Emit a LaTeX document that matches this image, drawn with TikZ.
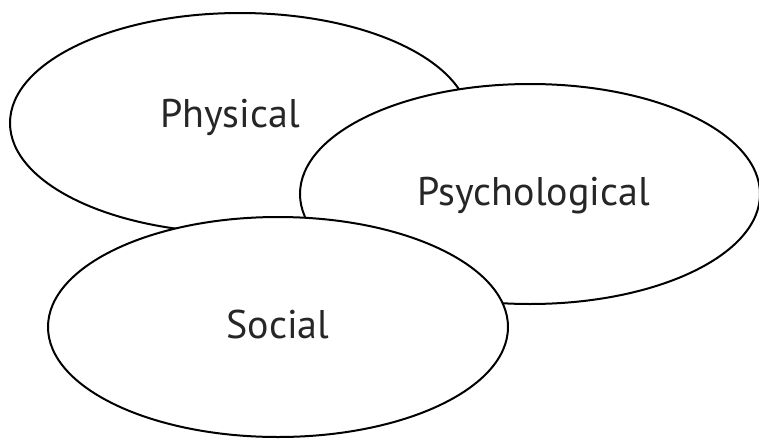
\documentclass[tikz,border=0pt]{standalone}
\usepackage{fontspec}
\setmainfont{PT Sans}
\usetikzlibrary{shapes.geometric}

\begin{document}
\begin{tikzpicture}[x=1pt,y=-1pt,
ovalnode/.style={ellipse, draw=black, fill=white, line width=2pt, minimum width=460pt, minimum height=220pt, inner sep=0pt},
labelnode/.style={font=\fontsize{40}{46}\selectfont, text=black!85, inner sep=0pt, anchor=base},
]
\useasboundingbox (0,0) rectangle (759,439);
%Ellipses
\node[ovalnode] (phys)  at (240,123) {};
\node[ovalnode] (psych) at (530,194) {};
\node[ovalnode] (soc)   at (278,327) {};

%Labels
\node[labelnode] (physlbl)  at (230,127) {Physical};
\node[labelnode] (psychlbl) at (534,205) {Psychological};
\node[labelnode] (soclbl)   at (278,338) {Social};
\end{tikzpicture}
\end{document}
